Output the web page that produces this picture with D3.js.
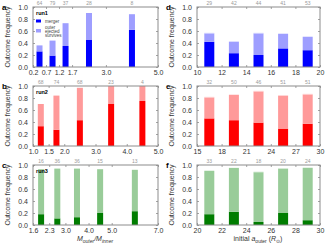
<!DOCTYPE html>
<html><head><meta charset="utf-8">
<script src="https://cdn.jsdelivr.net/npm/d3@7"></script>
<style>
body{margin:0;background:#fff;}
svg{display:block;font-family:"Liberation Sans",Arial,sans-serif;}
</style></head>
<body>
<svg id="c" width="330" height="245"></svg>
<script>
// ---- data ----
const yTicks = [0, 0.2, 0.4, 0.6, 0.8, 1.0];

const aX = [0.45, 0.95, 1.45, 2.35, 4.0];
const aCounts = [64, 79, 37, 28, 8];
const aMerger = [0.26, 0.19, 0.35, 0.45, 0.62];
const aEjected = [0.10, 0.25, 0.38, 0.45, 0.26];
const aOther = [0, 0, 0, 0, 0];
const aTicks = [0.2, 0.7, 1.2, 1.7, 3.0, 5.0];

const bX = [1.25, 1.75, 2.5, 3.5, 4.5];
const bCounts = [68, 74, 68, 23, 4];
const bMerger = [0.33, 0.27, 0.43, 0.70, 0.75];
const bEjected = [0.37, 0.57, 0.54, 0.30, 0.25];
const bOther = [0, 0, 0, 0, 0];
const bTicks = [1.0, 1.5, 2.0, 3.0, 4.0, 5.0];

const cX = [1.95, 2.65, 3.5, 4.5, 6.0];
const cCounts = [16, 36, 36, 15, 13];
const cMerger = [0.18, 0.11, 0.13, 0.20, 0.23];
const cEjected = [0.75, 0.83, 0.81, 0.73, 0.69];
const cOther = [0, 0, 0, 0, 0];
const cTicks = [1.6, 2.3, 3.0, 4.0, 5.0, 7.0];

const dX = [11, 13, 15, 17, 19];
const dCounts = [29, 42, 44, 41, 53];
const dMerger = [0.42, 0.23, 0.20, 0.31, 0.28];
const dEjected = [0.14, 0.19, 0.36, 0.24, 0.22];
const dOther = [0.01, 0.01, 0.01, 0.01, 0.01];
const dTicks = [10, 12, 14, 16, 18, 20];

const eX = [16.5, 19.5, 22.5, 25.5, 28.5];
const eCounts = [32, 50, 46, 51, 51];
const eMerger = [0.46, 0.43, 0.39, 0.29, 0.37];
const eEjected = [0.35, 0.42, 0.52, 0.55, 0.49];
const eOther = [0.01, 0.01, 0.01, 0.005, 0.01];
const eTicks = [15, 18, 21, 24, 27, 30];

const fX = [21, 23, 25, 27, 29];
const fCounts = [33, 22, 18, 20, 24];
const fMerger = [0.18, 0.22, 0.05, 0.20, 0.08];
const fEjected = [0.72, 0.73, 0.83, 0.74, 0.87];
const fOther = [0.01, 0.005, 0.01, 0.01, 0.01];
const fTicks = [20, 22, 24, 26, 28, 30];

const legendLabels = ["merger", "outer", "ejected", "survives"];

// ---- layout / style ----
const blue = ["#0000ff", "#9e9eff", "#d4d4ff"];
const red = ["#ff0000", "#ff9a9a", "#ffd6d6"];
const green = ["#007d00", "#99cc99", "#d6ecd6"];

const panels = [
  {id:"a", run:"run1", x:aX, n:aCounts, m:aMerger, e:aEjected, o:aOther, ticks:aTicks, fmt:d3.format(".1f"), col:blue, L:33, R:158, T:7, B:67, bw:6, legend:true},
  {id:"b", run:"run2", x:bX, n:bCounts, m:bMerger, e:bEjected, o:bOther, ticks:bTicks, fmt:d3.format(".1f"), col:red, L:33, R:158, T:86, B:146, bw:6},
  {id:"c", run:"run3", x:cX, n:cCounts, m:cMerger, e:cEjected, o:cOther, ticks:cTicks, fmt:d3.format(".1f"), col:green, L:33, R:158, T:165, B:225, bw:6},
  {id:"d", x:dX, n:dCounts, m:dMerger, e:dEjected, o:dOther, ticks:dTicks, fmt:d3.format("d"), col:blue, L:197, R:320, T:7, B:67, bw:10},
  {id:"e", x:eX, n:eCounts, m:eMerger, e:eEjected, o:eOther, ticks:eTicks, fmt:d3.format("d"), col:red, L:197, R:320, T:86, B:146, bw:10},
  {id:"f", x:fX, n:fCounts, m:fMerger, e:fEjected, o:fOther, ticks:fTicks, fmt:d3.format("d"), col:green, L:197, R:320, T:165, B:225, bw:10}
];

const svg = d3.select("#c");
const frameCol = "#8c8c8c";
const textCol = "#333";

panels.forEach(p => {
  const x = d3.scaleLinear().domain([p.ticks[0], p.ticks[p.ticks.length-1]]).range([p.L, p.R]);
  const y = d3.scaleLinear().domain([0, 1]).range([p.B, p.T]);
  const g = svg.append("g");

  // bars
  p.x.forEach((xv, i) => {
    const segs = [[0, p.m[i]], [p.m[i], p.m[i] + p.e[i]], [p.m[i] + p.e[i], p.m[i] + p.e[i] + p.o[i]]];
    segs.forEach((s, k) => {
      if (s[1] - s[0] <= 0) return;
      g.append("rect")
        .attr("x", x(xv) - p.bw / 2).attr("width", p.bw)
        .attr("y", y(Math.min(s[1], 1))).attr("height", y(s[0]) - y(Math.min(s[1], 1)))
        .attr("fill", p.col[k]);
    });
    // count label
    g.append("text").attr("x", x(xv)).attr("y", p.T - 2.5)
      .attr("text-anchor", "middle").attr("font-size", 5).attr("fill", "#999")
      .text(p.n[i]);
  });

  // axes
  const bottom = g.append("g").attr("transform", `translate(0,${p.B})`)
    .call(d3.axisBottom(x).tickValues(p.ticks).tickFormat(p.fmt).tickSize(-2).tickPadding(3));
  const top = g.append("g").attr("transform", `translate(0,${p.T})`)
    .call(d3.axisTop(x).tickValues(p.ticks).tickFormat("").tickSize(-2));
  const left = g.append("g").attr("transform", `translate(${p.L},0)`)
    .call(d3.axisLeft(y).tickValues(yTicks).tickFormat(d3.format(".1f")).tickSize(-2).tickPadding(5));
  const right = g.append("g").attr("transform", `translate(${p.R},0)`)
    .call(d3.axisRight(y).tickValues(yTicks).tickFormat("").tickSize(-2));
  [bottom, top, left, right].forEach(ax => {
    ax.select(".domain").remove();
    ax.selectAll(".tick line").attr("stroke", frameCol).attr("stroke-width", 0.8);
    ax.selectAll(".tick text").attr("font-size", 7).attr("fill", textCol).attr("font-family", "Liberation Sans, Arial, sans-serif");
  });
  g.append("rect").attr("x", p.L).attr("y", p.T).attr("width", p.R - p.L).attr("height", p.B - p.T)
    .attr("fill", "none").attr("stroke", frameCol).attr("stroke-width", 1);

  // panel letter
  g.append("text").attr("x", p.L - 31).attr("y", p.T + 3).attr("font-size", 8).attr("font-weight", "bold")
    .attr("fill", "#000").text(p.id);

  // y label
  g.append("text").attr("transform", `translate(${p.L - 23},${(p.T + p.B) / 2}) rotate(-90)`)
    .attr("text-anchor", "middle").attr("font-size", 7).attr("fill", textCol).text("Outcome frequency");

  // run label
  if (p.run) {
    g.append("text").attr("x", p.L + 3).attr("y", p.T + 8).attr("font-size", 5.5).attr("font-weight", "bold")
      .attr("fill", "#000").text(p.run);
  }
  if (p.legend) {
    const lx = p.L + 3;
    g.append("rect").attr("x", lx).attr("y", p.T + 12.5).attr("width", 5).attr("height", 3).attr("fill", p.col[0]);
    g.append("text").attr("x", lx + 9).attr("y", p.T + 15.5).attr("font-size", 4.5).attr("fill", "#444").text(legendLabels[0]);
    g.append("rect").attr("x", lx).attr("y", p.T + 22).attr("width", 5).attr("height", 3.5).attr("fill", p.col[1]);
    g.append("text").attr("x", lx + 9).attr("y", p.T + 21.5).attr("font-size", 4.5).attr("fill", "#444").text(legendLabels[1]);
    g.append("text").attr("x", lx + 9).attr("y", p.T + 25.5).attr("font-size", 4.5).attr("fill", "#444").text(legendLabels[2]);
    g.append("text").attr("x", lx + 9).attr("y", p.T + 29.5).attr("font-size", 4.5).attr("fill", "#444").text(legendLabels[3]);
  }
});

// x-axis titles
const t1 = svg.append("text").attr("x", 95).attr("y", 241).attr("text-anchor", "middle")
  .attr("font-size", 7).attr("fill", textCol).attr("font-style", "italic");
t1.append("tspan").text("M");
t1.append("tspan").attr("font-size", 5).attr("dy", 1.5).text("outer");
t1.append("tspan").attr("dy", -1.5).text("/M");
t1.append("tspan").attr("font-size", 5).attr("dy", 1.5).text("inner");

const t2 = svg.append("text").attr("x", 258).attr("y", 241).attr("text-anchor", "middle")
  .attr("font-size", 7).attr("fill", textCol);
t2.append("tspan").text("initial ");
t2.append("tspan").attr("font-style", "italic").text("a");
t2.append("tspan").attr("font-size", 5).attr("dy", 1.5).text("outer");
t2.append("tspan").attr("dy", -1.5).text(" (");
t2.append("tspan").attr("font-style", "italic").text("R");
t2.append("tspan").attr("font-size", 5).attr("dy", 1.5).text("⊙");
t2.append("tspan").attr("dy", -1.5).text(")");
</script>
</body></html>
